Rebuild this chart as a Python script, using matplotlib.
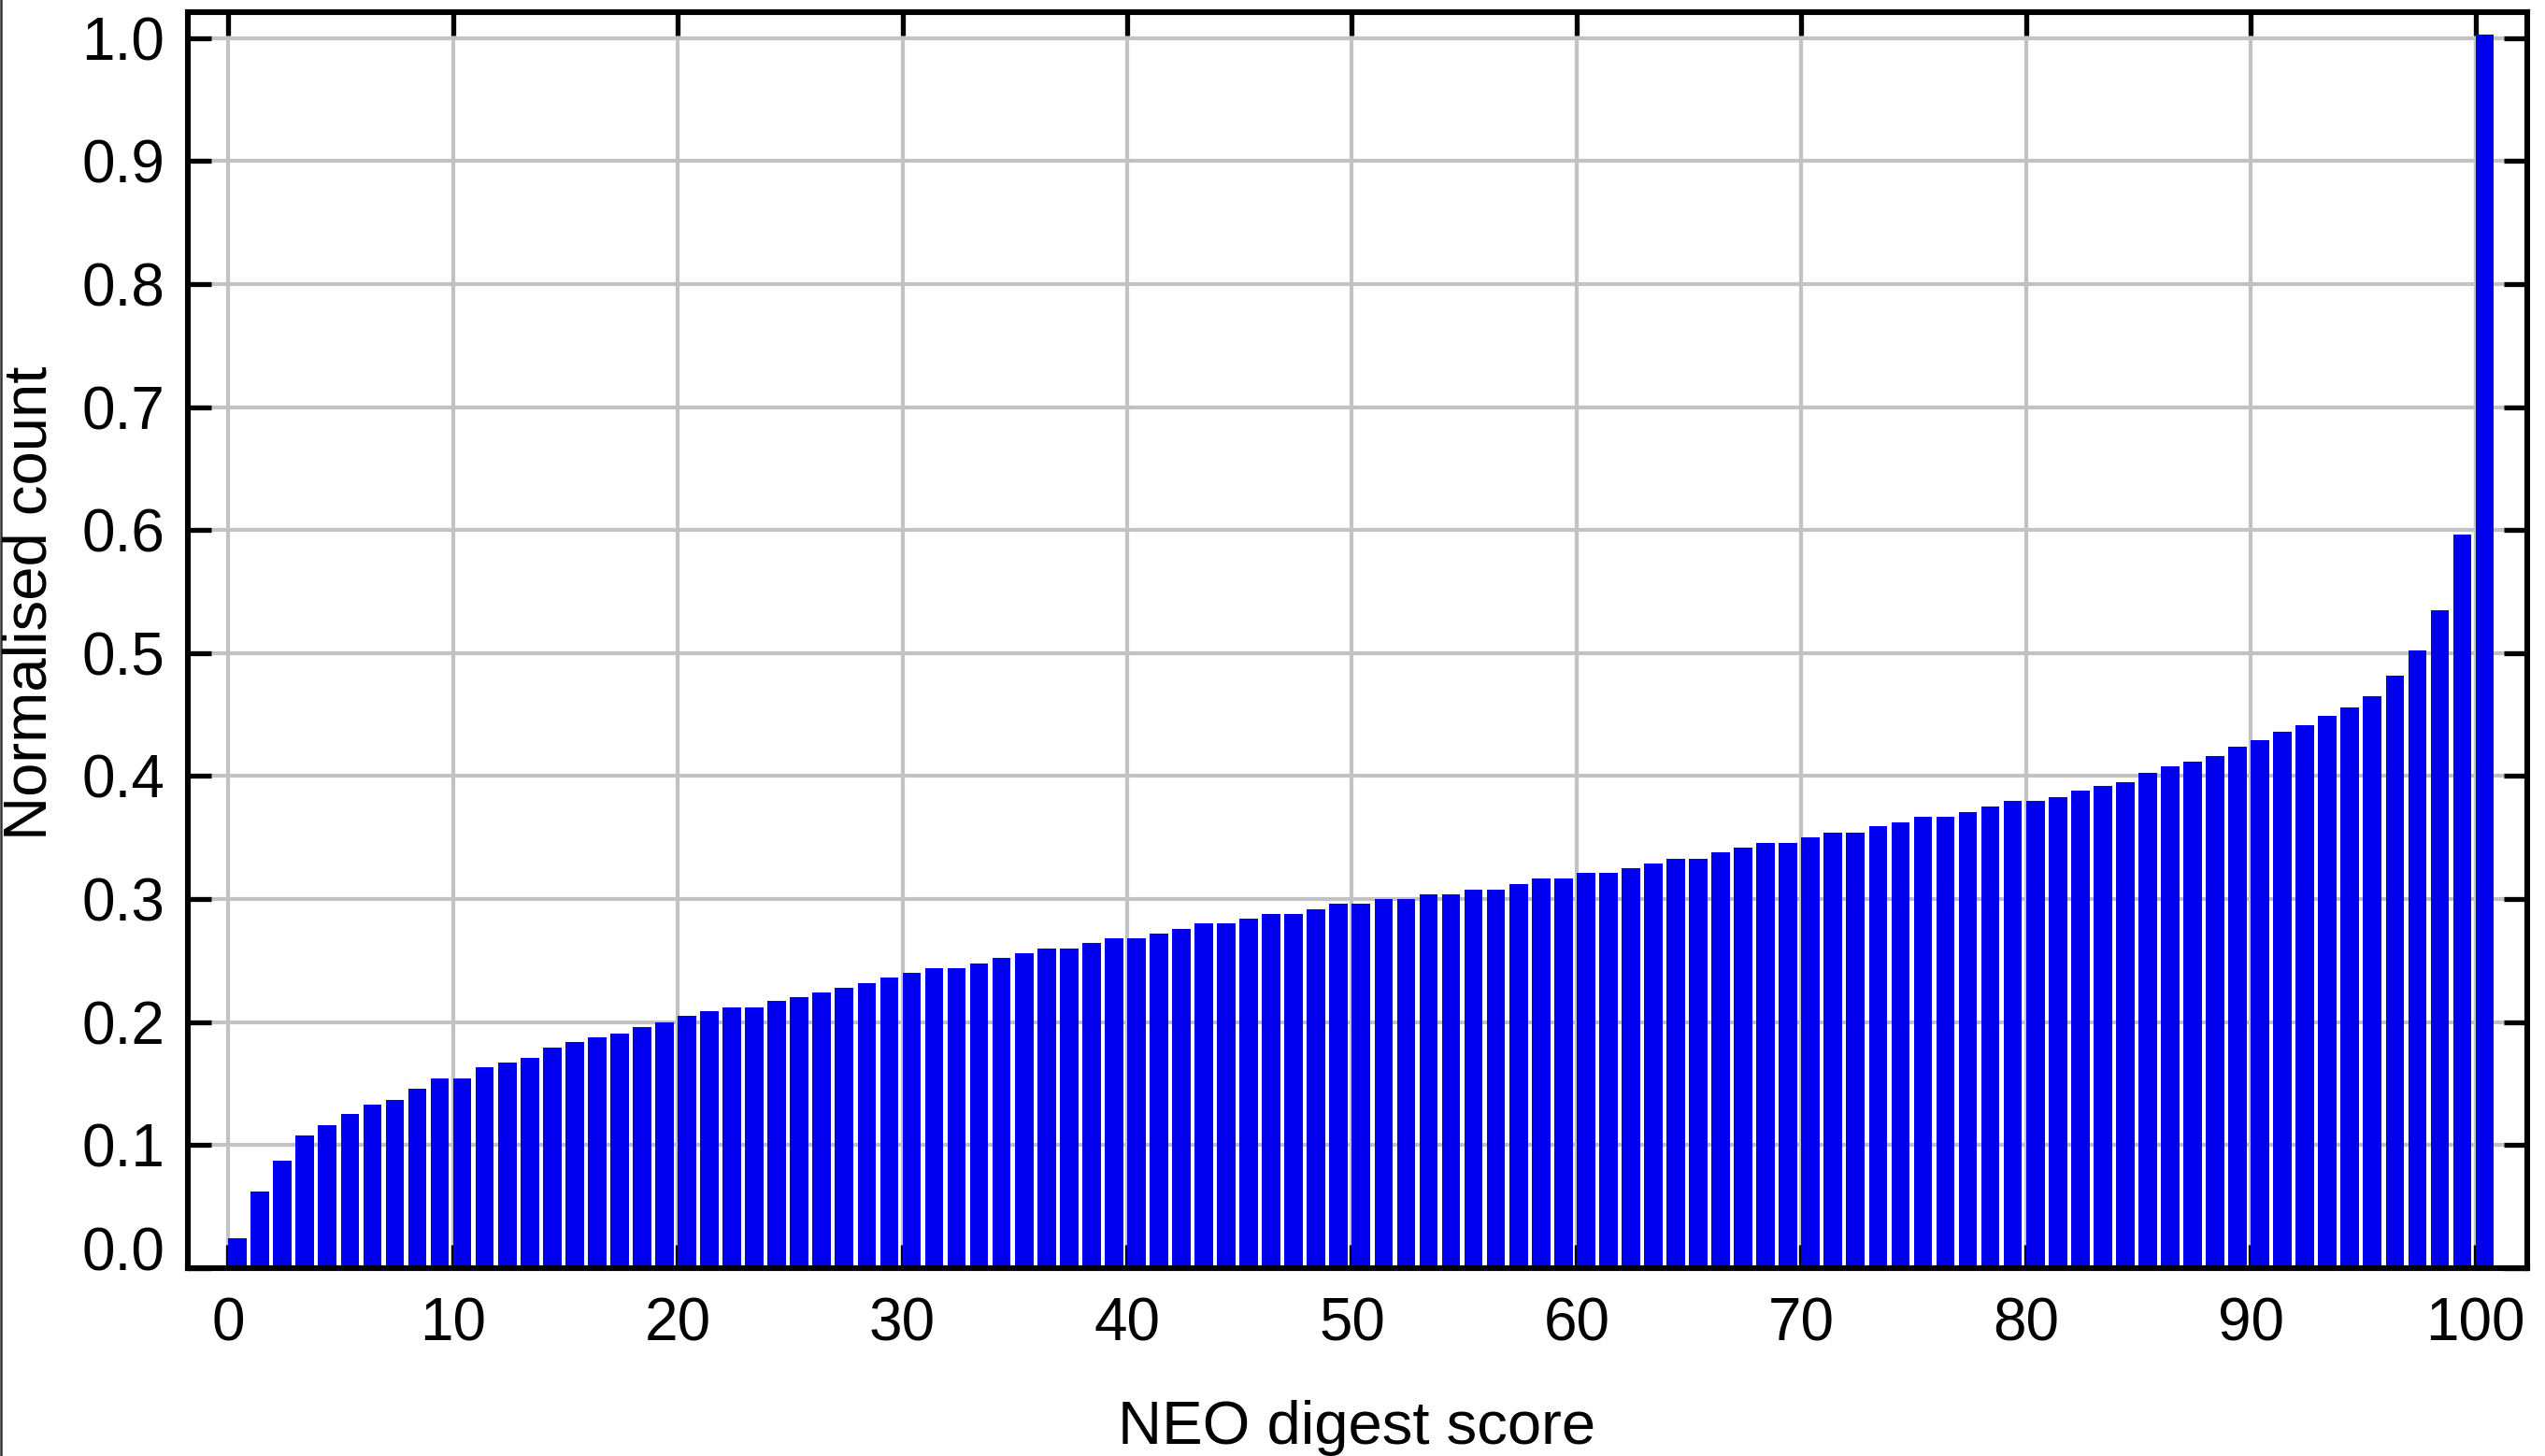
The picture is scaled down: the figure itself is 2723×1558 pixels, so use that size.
import numpy as np
import matplotlib
matplotlib.use("Agg")
import matplotlib.pyplot as plt
from matplotlib.transforms import ScaledTranslation
from matplotlib.lines import Line2D

# NEO digest score bins and normalised counts
scores = list(range(0, 101))
counts = [
    0.024, 0.062, 0.087, 0.108, 0.116, 0.125, 0.133, 0.137, 0.146, 0.154,
    0.154, 0.163, 0.167, 0.171, 0.179, 0.184, 0.188, 0.191, 0.196, 0.200,
    0.205, 0.209, 0.212, 0.212, 0.217, 0.220, 0.224, 0.228, 0.232, 0.236,
    0.240, 0.244, 0.244, 0.248, 0.252, 0.256, 0.260, 0.260, 0.264, 0.268,
    0.268, 0.272, 0.276, 0.280, 0.280, 0.284, 0.288, 0.288, 0.292, 0.296,
    0.296, 0.300, 0.300, 0.304, 0.304, 0.308, 0.308, 0.312, 0.317, 0.317,
    0.321, 0.321, 0.325, 0.329, 0.333, 0.333, 0.338, 0.342, 0.346, 0.346,
    0.350, 0.354, 0.354, 0.359, 0.362, 0.367, 0.367, 0.371, 0.375, 0.380,
    0.380, 0.383, 0.388, 0.392, 0.395, 0.403, 0.408, 0.412, 0.416, 0.424,
    0.429, 0.436, 0.441, 0.449, 0.456, 0.465, 0.482, 0.502, 0.535, 0.596,
    1.003,
]
xticks = list(range(0, 101, 10))
yticks = [round(0.1 * i, 1) for i in range(11)]

plt.rcParams["font.family"] = ["Liberation Sans", "DejaVu Sans"]

DPI = 200
W, H = 2723, 1558
fig = plt.figure(figsize=(W / DPI, H / DPI), dpi=DPI)
# axes box in pixels: left 201, right 2704, top 13, bottom 1357
ax = fig.add_axes([201 / W, 1 - 1357 / H, (2704 - 201) / W, (1357 - 13) / H])

ax.bar(scores, counts, width=0.82, align="edge", color="#0000ee", linewidth=0, zorder=2)

ax.set_xlim(-1.8, 102.3)
ax.set_ylim(0, 1.021)
ax.set_xticks(xticks)
ax.set_yticks(yticks)
ax.set_yticklabels([f"{v:.1f}" for v in yticks])

ax.set_axisbelow(True)
ax.grid(True, color="#c2c2c2", linewidth=1.5)

for s in ax.spines.values():
    s.set_linewidth(2.2)
    s.set_color("black")

ax.tick_params(axis="both", which="major", direction="in", length=9, width=1.9,
               top=True, right=True, labelsize=23, color="black")
ax.tick_params(axis="x", pad=11)
ax.tick_params(axis="y", pad=9)

# lift the 0.0 label off the x axis like the original
t0 = ax.yaxis.get_major_ticks()[0].label1
t0.set_transform(t0.get_transform() + ScaledTranslation(0, 21 / DPI, fig.dpi_scale_trans))

fig.text(1452 / W, 1 - 1545 / H, "NEO digest score", ha="center", va="baseline", fontsize=23.5)
fig.text(33 / W, 1 - 645 / H, "Normalised count", ha="center", va="center",
         rotation=90, fontsize=23.5)

# thin border on the left edge of the picture
fig.add_artist(Line2D([1 / W, 1 / W], [0, 1], transform=fig.transFigure,
                      color="#333333", linewidth=0.9))

fig.savefig("out.png", dpi=DPI)
